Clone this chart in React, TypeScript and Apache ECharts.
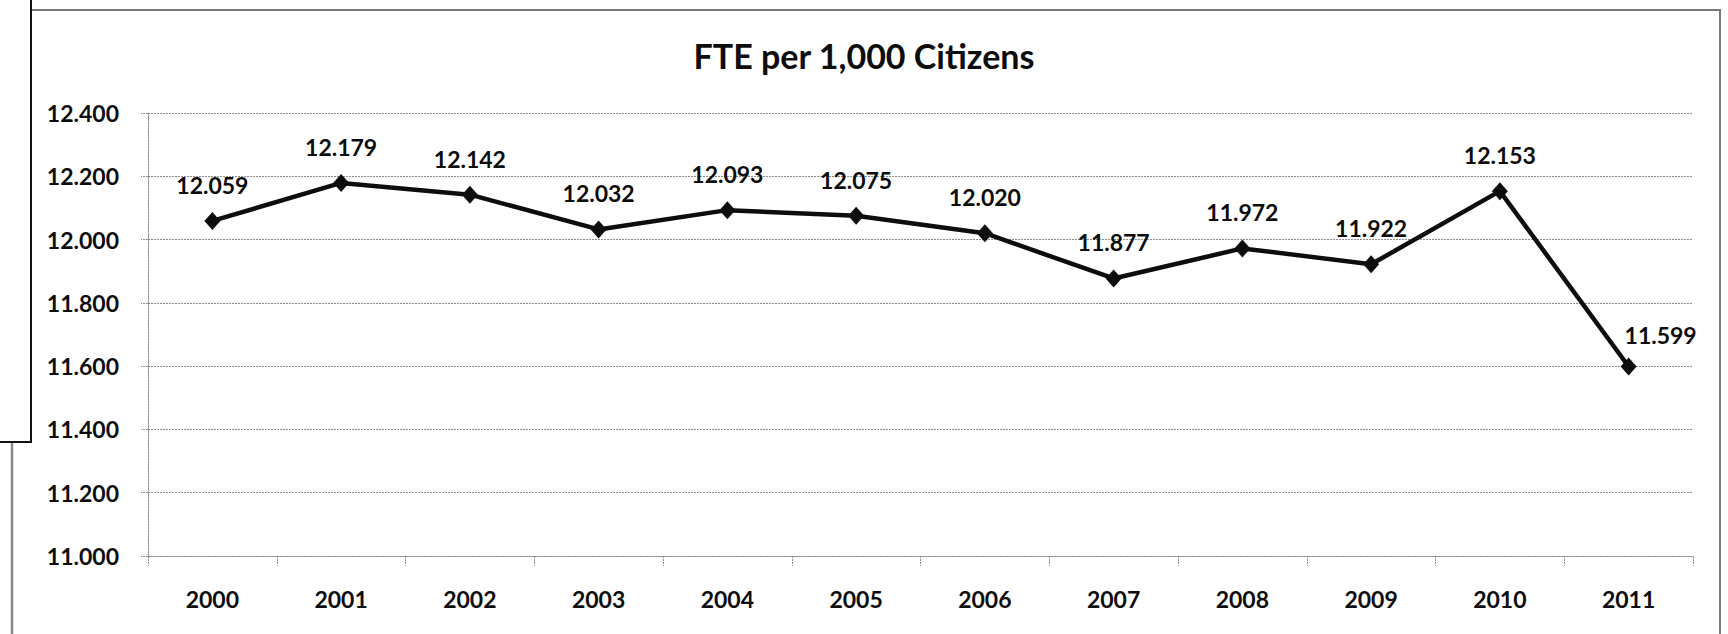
import React, { useEffect, useRef } from "react";
import * as echarts from "echarts";

// FTE per 1,000 citizens, by year
const years = ["2000", "2001", "2002", "2003", "2004", "2005", "2006", "2007", "2008", "2009", "2010", "2011"];
const ftePerThousand = [12.059, 12.179, 12.142, 12.032, 12.093, 12.075, 12.020, 11.877, 11.972, 11.922, 12.153, 11.599];
const yTicks = { min: 11.0, max: 12.4, step: 0.2 };
const chartTitle = "FTE per 1,000 Citizens";

const FONT = "Lato, 'Open Sans', sans-serif";
const INK = "#0d0d0d";
const GRID_GREY = "#8c8c8c";
const LABEL_SIZE = 23;

export default function App() {
  const ref = useRef<HTMLDivElement>(null);

  useEffect(() => {
    if (!ref.current) return;
    const chart = echarts.init(ref.current, undefined, { renderer: "svg" });

    const lastIndex = ftePerThousand.length - 1;
    const points = ftePerThousand.map((v, i) => ({
      value: v,
      label:
        i === lastIndex
          ? { offset: [32, -31] }
          : { offset: [0, -36] },
    }));

    chart.setOption({
      animation: false,
      backgroundColor: "#ffffff",
      title: {
        text: chartTitle,
        left: "center",
        top: 33,
        textStyle: { fontFamily: FONT, fontWeight: "bold", fontSize: 34, color: INK },
      },
      grid: { left: 148, right: 35, top: 113, bottom: 78 },
      xAxis: {
        type: "category",
        data: years,
        boundaryGap: true,
        axisLine: { show: true, lineStyle: { color: GRID_GREY, width: 1, type: [2, 1] } },
        axisTick: {
          show: true,
          length: 10,
          alignWithLabel: false,
          lineStyle: { color: GRID_GREY, width: 1, type: [2, 1] },
        },
        axisLabel: {
          margin: 31,
          fontFamily: FONT,
          fontWeight: "bold",
          fontSize: LABEL_SIZE,
          color: INK,
        },
        splitLine: { show: false },
      },
      yAxis: {
        type: "value",
        min: yTicks.min,
        max: yTicks.max,
        interval: yTicks.step,
        axisLine: { show: true, lineStyle: { color: GRID_GREY, width: 1, type: [2, 1] } },
        axisTick: { show: true, length: 7, lineStyle: { color: GRID_GREY, width: 1, type: [2, 1] } },
        axisLabel: {
          margin: 29,
          fontFamily: FONT,
          fontWeight: "bold",
          fontSize: LABEL_SIZE,
          color: INK,
          formatter: (v: number) => v.toFixed(3),
        },
        splitLine: { show: true, lineStyle: { color: GRID_GREY, width: 1, type: [2, 1] } },
      },
      series: [
        {
          type: "line",
          data: points,
          symbol: "diamond",
          symbolSize: [16, 18],
          lineStyle: { color: INK, width: 4.5 },
          itemStyle: { color: INK },
          label: {
            show: true,
            position: "inside",
            fontFamily: FONT,
            fontWeight: "bold",
            fontSize: LABEL_SIZE,
            color: INK,
            formatter: (p: any) => Number(p.value).toFixed(3),
          },
        },
      ],
      graphic: [
        // outer frame of the chart area
        { type: "line", shape: { x1: 31, y1: 10, x2: 1720, y2: 10 }, style: { stroke: "#7a7a7a", lineWidth: 2 } },
        { type: "line", shape: { x1: 1720, y1: 9, x2: 1720, y2: 634 }, style: { stroke: "#7a7a7a", lineWidth: 2 } },
        // neighbouring box edge on the left
        { type: "line", shape: { x1: 31, y1: 0, x2: 31, y2: 442 }, style: { stroke: "#111111", lineWidth: 2 } },
        { type: "line", shape: { x1: 0, y1: 442, x2: 32, y2: 442 }, style: { stroke: "#111111", lineWidth: 2 } },
        { type: "line", shape: { x1: 12, y1: 443, x2: 12, y2: 634 }, style: { stroke: "#8a8a8a", lineWidth: 2.5 } },
      ],
    });

    return () => chart.dispose();
  }, []);

  return (
    <div
      ref={ref}
      style={{ position: "fixed", left: 0, top: 0, width: 1728, height: 634, background: "#fff" }}
    />
  );
}
